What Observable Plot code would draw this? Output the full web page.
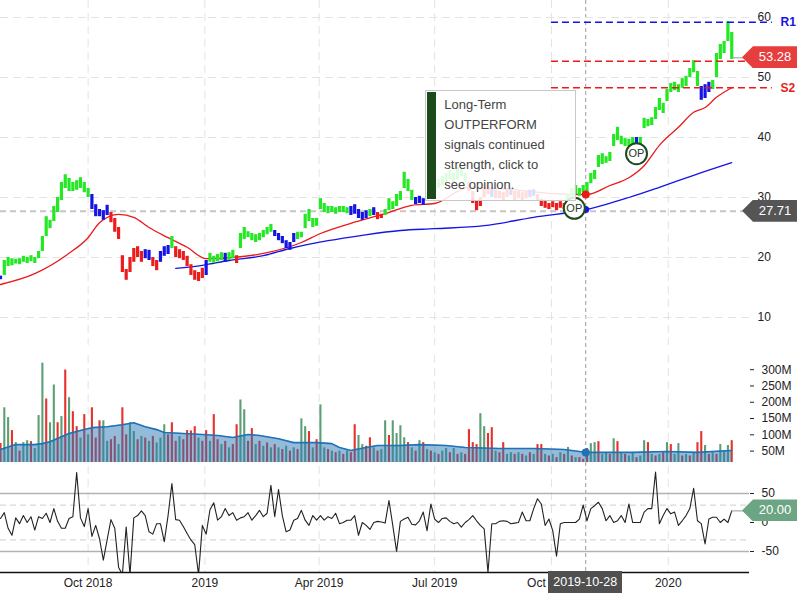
<!DOCTYPE html>
<html>
<head>
<meta charset="utf-8">
<script src="https://cdn.jsdelivr.net/npm/d3@7"></script>
<script src="https://cdn.jsdelivr.net/npm/@observablehq/plot@0.6"></script>
<style>
  body { margin: 0; background: #fff; }
  #wrap { position: relative; width: 800px; height: 600px; overflow: hidden; background: #fff;
          font-family: "Liberation Sans", Arial, Helvetica, sans-serif; }
  .tag { position: absolute; height: 22px; line-height: 22px; color: #fff; font-size: 13px;
         text-align: center; box-sizing: border-box; padding-left: 11px;
         clip-path: polygon(0 50%, 11px 0, 100% 0, 100% 100%, 11px 100%); }
  .tip { position: absolute; background: rgba(255,255,255,0.86); border: 1px solid #c8c8c8;
         box-sizing: border-box; color: #444; font-size: 13px; line-height: 20px; }
  .tip .bar { position: absolute; left: 1px; top: 1px; bottom: 1px; width: 9px; background: #1d4a1d; }
  .tip .txt { position: absolute; left: 18px; top: 4px; white-space: pre; }
  .datebox { position: absolute; height: 22px; line-height: 22px; background: #505050; color: #fff;
             font-size: 12.5px; text-align: center; }
</style>
</head>
<body>
<div id="wrap"></div>
<script>
// ---------------- data (one sample every 3 calendar days from 2018-07-24) ----------------
const priceLow = [
16.3,17.0,18.5,18.6,18.9,18.8,19.2,19.0,19.3,19.0,
19.8,21.0,23.5,24.8,26.0,27.5,29.5,31.5,31.0,31.0,
31.2,31.5,30.8,30.0,28.0,26.8,26.8,26.2,27.0,25.8,
24.2,23.0,17.5,16.2,17.5,19.2,20.0,19.2,19.8,19.5,
18.5,17.8,19.2,20.2,20.5,21.5,20.0,19.8,19.5,18.5,
17.0,16.2,16.0,16.5,17.0,19.2,19.0,19.3,19.5,19.2,
19.5,19.8,19.0,21.5,23.0,23.3,22.8,22.5,22.8,23.3,
23.8,24.2,23.5,22.8,22.3,21.5,21.2,22.5,23.0,23.3,
24.8,26.0,25.0,25.2,28.0,27.5,27.3,27.5,27.2,27.5,
27.5,27.3,27.0,27.2,26.5,26.2,26.5,26.8,27.0,26.3,
26.5,27.0,27.8,28.0,28.5,29.5,31.5,31.0,29.5,28.8,
29.0,28.7,29.5,30.0,30.5,31.5,32.0,32.5,33.0,32.5,
33.0,33.5,32.5,31.0,29.0,27.8,28.5,30.0,30.5,30.0,
29.8,29.8,29.5,30.0,30.3,29.5,29.8,29.5,29.8,30.0,
30.2,29.5,28.5,28.2,28.0,28.3,27.8,28.2,28.0,29.0,
30.0,30.5,30.2,30.8,31.0,32.3,33.0,35.0,35.5,35.7,
36.0,38.5,39.5,38.8,38.5,38.5,38.8,39.0,38.8,41.5,
41.8,42.0,43.0,44.5,44.0,46.0,47.5,47.8,47.5,48.2,
48.5,50.0,50.8,48.5,46.2,46.5,47.5,48.0,50.0,53.0,
54.0,56.0,53.0];
const priceHigh = [
16.9,19.5,20.0,19.8,19.7,19.8,20.2,20.0,20.3,20.0,
21.0,23.5,26.8,26.2,28.5,30.0,32.5,33.8,33.2,32.5,
32.8,33.3,32.5,31.5,30.5,28.8,28.0,27.8,28.7,27.5,
26.5,25.0,20.3,18.0,20.0,21.5,21.8,21.0,21.3,21.2,
20.0,19.5,21.0,21.8,22.0,23.5,21.8,21.3,21.0,20.2,
18.8,17.8,17.5,18.2,19.5,20.7,20.2,20.5,20.8,20.7,
20.8,21.2,20.3,24.0,25.0,24.3,24.0,23.8,24.0,24.5,
25.0,25.5,24.5,24.0,23.5,22.8,22.5,24.0,24.2,24.2,
27.2,28.0,26.5,26.5,29.8,29.0,28.5,28.5,28.3,28.5,
28.5,28.3,28.5,28.8,28.0,27.5,27.8,28.0,28.3,27.5,
27.2,28.0,29.8,29.3,30.5,31.0,34.2,33.0,31.2,30.0,
30.2,29.8,30.7,31.5,32.0,33.0,33.5,34.0,34.5,34.0,
35.0,35.0,34.0,32.5,31.0,29.5,30.0,31.5,32.0,31.5,
31.2,31.0,30.8,31.3,31.5,31.0,31.0,30.8,31.0,31.2,
31.3,30.5,29.7,29.5,29.0,29.3,29.0,29.3,29.0,30.5,
31.5,32.0,31.5,32.0,32.5,34.0,34.5,37.0,37.3,36.8,
37.5,40.5,41.7,40.2,39.8,39.7,40.0,40.0,40.0,43.2,
43.0,43.3,45.0,46.5,45.7,48.0,49.0,49.2,48.8,49.8,
50.2,51.5,52.8,51.0,48.5,48.8,49.2,49.5,54.0,55.5,
56.0,59.3,57.5];
// g = outperform (green), b = neutral (blue), r = underperform (red)
const barSignal = [
"bggggggggg","gggggggggg","ggggbbbbbr","rrrrrrrrbb","rrbbbgrrrr",
"rrrrbggggb","ggrggggggg","ggbbbbbbgg","gggggggggg","ggbbbbbgbr",
"rggggggggb","bbgggggggg","gggrrrrrrb","rrrrbrrrrb","brrrrrrrrg",
"gggggggggg","gggggggbgg","gggggggggg","ggggbbbggg","ggg"].join("");
const volume = [
73,183,153,113,76,50,76,82,79,58,
159,320,210,137,253,137,156,299,214,171,
125,90,162,100,183,90,143,143,80,85,
95,70,183,100,137,110,85,95,90,80,
95,75,90,131,100,137,80,95,85,113,
112,125,90,80,113,80,162,85,70,80,
60,70,131,207,177,80,119,70,80,65,
75,60,70,60,55,65,50,60,55,149,
125,110,60,85,192,60,55,50,45,50,
40,50,45,131,98,70,65,91,60,50,
55,143,98,143,104,128,91,76,60,50,
82,76,55,50,45,40,50,58,45,58,
40,45,40,116,76,70,165,125,104,122,
50,45,76,40,45,40,45,40,35,45,
40,70,70,40,35,40,30,45,40,61,
35,30,30,25,58,73,76,79,40,45,
40,88,79,45,40,35,45,30,35,82,
76,40,35,40,45,76,70,40,73,35,
40,35,45,76,110,67,40,45,40,70,
50,67,82];
const volumeDir = [
"duududuudu","uuduududud","dududdduud","dudduududu","duuudddudd",
"ddudduddud","udduuddudu","dududududu","ududuududu","dudduuddud",
"uuduuuudud","udududuudu","dudddduudd","udduududud","uddudududu",
"duddduuduu","dududuuduu","dudududuud","ududdududu","uud"].join("");
const oscillator = [
7,17,-10,-22,8,-2,12,0,10,-13,
10,7,16,0,24,2,-10,-10,7,10,
86,8,-7,24,-24,-5,-28,-65,-30,5,
-10,-77,-90,-8,-90,8,12,20,12,-16,
-20,-2,-2,-33,12,67,5,4,-7,-19,
-30,-38,-90,-5,-20,22,34,4,10,24,
12,17,4,8,10,17,4,12,21,10,
16,64,10,57,12,-16,-13,4,7,21,
4,-5,12,4,12,4,10,7,16,-2,
0,4,4,12,-22,0,-5,-12,0,2,
1,-1,38,-5,-50,2,6,9,-3,-4,
3,18,-14,32,6,0,7,8,2,-2,
0,-8,0,5,12,3,-5,-11,-86,-2,
-2,2,3,2,-2,-1,0,18,3,3,
24,41,32,-5,6,-14,-58,-2,0,0,
0,0,6,30,3,24,29,35,24,3,
12,0,3,12,0,32,0,0,0,18,
24,24,87,-2,12,24,15,18,-5,3,
12,24,59,3,-2,-37,6,9,9,0,
6,0,20];
// moving averages, keyed by sample index
const redMaIdx = [0,9,18,23,26,31,35,39,44,49,54,61,70,79,84,92,101,108,114,123,131,144,154,160,165,169,173,178,182,185,188,192];
const redMaVal = [15.5,17.3,20.7,23.3,25.8,27.2,26.7,25.0,23.3,21.7,19.8,20.0,20.8,22.5,24.0,25.7,27.3,28.7,29.0,31.7,31.5,30.7,30.5,32.0,33.3,35.3,38.7,41.7,44.2,45.0,46.7,48.3];
const blueMaIdx = [46,53,60,69,76,86,95,105,114,127,140,154,165,173,182,192];
const blueMaVal = [18.2,18.7,19.5,20.3,21.5,22.8,23.7,24.5,24.8,25.3,26.7,28.0,30.0,31.7,33.7,35.8];
const volMaIdx = [0,4,9,11,13,18,21,24,28,32,35,38,41,43,48,53,57,61,65,68,73,77,83,87,89,92,96,99,105,110,117,122,131,140,148,152,154,166,175,183,192];
const volMaVal = [55,70,70,73,79,104,113,122,125,131,137,125,116,107,104,101,98,92,101,98,88,76,76,73,61,52,61,67,67,70,67,61,58,58,55,49,46,46,49,46,52];

const tickDates = ["2018-10-01","2019-01-01","2019-04-01","2019-07-01","2019-10-01","2020-01-01"];
const tickLabels = ["Oct 2018","2019","Apr 2019","Jul 2019","Oct 2019","2020"];
const priceTicks = [10,20,30,40,50,60];
const volTicks = [50,100,150,200,250,300];
const oscTicks = [-50,0,50];
const oscSolid = [50,-50];
const oscDashed = [30,-30];

const levelNames = ["R1","S1","S2"];
const levelValues = [59.2,52.7,48.3];
const levelColors = ["#1414e6","#e81c1c","#e81c1c"];
const levelStart = "2019-10-01", levelEnd = "2020-03-23";

const lastClose = 53.28, supportLine = 27.71, lastOsc = 20.00;
const crossDate = "2019-10-28", crossRed = 30.5, crossBlue = 28.0, crossVol = 46;
const opDates = ["2019-10-19","2019-12-07"], opPrices = [28.2,37.3];
const tipLines = ["Long-Term","OUTPERFORM","signals continued","strength, click to","see opinion."];
const tipCorner = {date: "2019-06-24", price: 47.8};

// ---------------- build ----------------
const FONT = '"Liberation Sans", Arial, Helvetica, sans-serif';
const DAY = 864e5, START = Date.UTC(2018, 6, 24);
const sampleDate = i => new Date(START + i * 3 * DAY);
const D = s => new Date(s);

const bars = priceLow.map((lo, i) => ({date: sampleDate(i), lo, hi: priceHigh[i], s: barSignal[i]}));
const vols = volume.map((v, i) => ({date: sampleDate(i), v, up: volumeDir[i] === "u"}));
const osc = oscillator.map((v, i) => ({date: sampleDate(i), v}));
const redMa = redMaIdx.map((k, j) => ({date: sampleDate(k), v: redMaVal[j]}));
const blueMa = blueMaIdx.map((k, j) => ({date: sampleDate(k), v: blueMaVal[j]}));
const volMa = volMaIdx.map((k, j) => ({date: sampleDate(k), v: volMaVal[j]}));
const levels = levelNames.map((name, j) => ({name, value: levelValues[j], color: levelColors[j]}));
const ops = opDates.map((d, j) => ({date: D(d), v: opPrices[j], label: "OP"}));
const ticks = tickDates.map(D);
const labelOf = new Map(ticks.map((d, j) => [+d, tickLabels[j]]));
const lastDate = sampleDate(priceLow.length - 1);
const tagDate = D("2020-03-01");
const cross = D(crossDate);

const palette = {g: "#24e824", b: "#1414e6", r: "#ec1c1c"};
const GRID = "#e3e3e3";
const xDomain = [D("2018-07-24"), D("2020-03-05")];
const X = {type: "utc", domain: xDomain, range: [0, 749]};
const base = {width: 800, marginLeft: 0, marginRight: 51, marginTop: 0,
  style: {background: "transparent", fontFamily: FONT, fontSize: "12px", color: "#222", overflow: "visible"}};

const wrap = document.getElementById("wrap");
function place(el, top) { el.style.position = "absolute"; el.style.left = "0px"; el.style.top = top + "px"; wrap.appendChild(el); return el; }

const TOP_P = 0, TOP_V = 355, TOP_O = 466;
const volMin = 15;
const oscMin = -86.2;

// crosshair overlay
place(Plot.plot({...base, height: 572, marginBottom: 0, x: {...X, axis: null},
  marks: [Plot.ruleX([cross], {stroke: "#9c9c9c", strokeDasharray: "4,3"})]}), 0);

// volume panel
const volPlot = place(Plot.plot({...base, height: 107, marginBottom: 0,
  x: {...X, axis: null}, y: {domain: [volMin, 343.6], range: [107, 0]}, color: {type: "identity"},
  marks: [
    Plot.ruleX(ticks, {stroke: GRID, strokeDasharray: "8,5"}),
    Plot.ruleX(vols, {x: "date", y1: volMin, y2: "v", stroke: d => d.up ? "#5c9e76" : "#e5322c", strokeWidth: 2.1}),
    Plot.areaY(volMa, {x: "date", y1: volMin, y2: "v", fill: "#2a78b6", fillOpacity: 0.5}),
    Plot.line(volMa, {x: "date", y: "v", stroke: "#1f72b6", strokeWidth: 1.6}),
    Plot.dot([cross], {x: d => d, y: crossVol, r: 4, fill: "#1f72b6"}),
    Plot.axisY(volTicks, {anchor: "right", label: null, tickSize: 4, tickPadding: 8, tickFormat: d => d + "M", fontSize: 12})
  ]}), TOP_V);

// oscillator panel + x axis
const oscPlot = place(Plot.plot({...base, height: 134, marginBottom: 28,
  x: X, y: {domain: [oscMin, 96.6], range: [106, 0]},
  marks: [
    Plot.ruleX(ticks, {stroke: GRID, strokeDasharray: "8,5"}),
    Plot.ruleY(oscSolid, {stroke: "#b2b2b2", strokeWidth: 1.6}),
    Plot.ruleY(oscDashed, {stroke: "#cdcdcd", strokeDasharray: "6,4"}),
    Plot.line(osc, {x: "date", y: "v", stroke: "#222", strokeWidth: 1.1, clip: true}),
    Plot.ruleY([lastOsc], {x1: lastDate, x2: tagDate, stroke: "#999"}),
    Plot.ruleY([oscMin], {stroke: "#111", strokeWidth: 1.5}),
    Plot.axisY(oscTicks, {anchor: "right", label: null, tickSize: 4, tickPadding: 8, tickFormat: d => String(d), fontSize: 12}),
    Plot.axisX(ticks, {label: null, tickSize: 0, tickPadding: 6, tickFormat: d => labelOf.get(+d), fontSize: 12})
  ]}), TOP_O);

// price panel
const pricePlot = place(Plot.plot({...base, height: 345, marginBottom: 0,
  x: {...X, axis: null}, y: {domain: [5.3333, 62.8333], range: [345, 0]}, color: {type: "identity"},
  marks: [
    Plot.ruleY(priceTicks, {stroke: GRID, strokeDasharray: "8,5"}),
    Plot.ruleX(ticks, {stroke: GRID, strokeDasharray: "8,5"}),
    Plot.ruleY([supportLine], {stroke: "#c6c6c6", strokeWidth: 2, strokeDasharray: "6,4"}),
    Plot.line(blueMa, {x: "date", y: "v", stroke: "#1414e6", strokeWidth: 1.3, curve: "monotone-x"}),
    Plot.line(redMa, {x: "date", y: "v", stroke: "#ea1a1a", strokeWidth: 1.3, curve: "monotone-x"}),
    Plot.ruleX(bars, {x: "date", y1: "lo", y2: "hi", stroke: d => palette[d.s], strokeWidth: 3.2}),
    Plot.ruleY(levels, {y: "value", x1: D(levelStart), x2: D(levelEnd), stroke: "color", strokeWidth: 1.6, strokeDasharray: "7,4"}),
    Plot.ruleY([lastClose], {x1: lastDate, x2: tagDate, stroke: "#999"}),
    Plot.dot([cross], {x: d => d, y: crossRed, r: 4, fill: "#ea1a1a"}),
    Plot.dot([cross], {x: d => d, y: crossBlue, r: 3.5, fill: "#1414e6"}),
    Plot.dot(ops, {x: "date", y: "v", r: 10.5, fill: "white", stroke: "#1d4a1d", strokeWidth: 2}),
    Plot.text(ops, {x: "date", y: "v", text: "label", fontSize: 11, fill: "#1d3d1d"}),
    Plot.axisY(priceTicks, {anchor: "right", label: null, tickSize: 0, tickPadding: 8, fontSize: 12}),
    Plot.text(levels, {y: "value", frameAnchor: "right", dx: 31, text: "name", textAnchor: "start",
      fill: "color", fontWeight: "bold", fontSize: 12})
  ]}), TOP_P);

const xs = pricePlot.scale("x"), yp = pricePlot.scale("y"), yo = oscPlot.scale("y");

// tooltip card
const tip = document.createElement("div");
tip.className = "tip";
tip.style.left = xs.apply(D(tipCorner.date)) + "px";
tip.style.top = (TOP_P + yp.apply(tipCorner.price)) + "px";
tip.style.width = "151px"; tip.style.height = "111px";
tip.innerHTML = '<div class="bar"></div><div class="txt"></div>';
tip.querySelector(".txt").textContent = tipLines.join("\n");
wrap.appendChild(tip);

// value tags on right
function tag(value, yPx, bg) {
  const t = document.createElement("div");
  t.className = "tag";
  t.style.left = "742px"; t.style.width = "55px";
  t.style.top = (yPx - 11) + "px";
  t.style.background = bg;
  t.textContent = value.toFixed(2);
  wrap.appendChild(t);
}
tag(lastClose, TOP_P + yp.apply(lastClose), "#e63d3d");
tag(supportLine, TOP_P + yp.apply(supportLine), "#555555");
tag(lastOsc, TOP_O + yo.apply(lastOsc), "#6ca583");

// crosshair date box
const db = document.createElement("div");
db.className = "datebox";
db.style.left = (xs.apply(cross) - 37) + "px";
db.style.top = "571px"; db.style.width = "74px";
db.textContent = crossDate;
wrap.appendChild(db);
</script>
</body>
</html>
